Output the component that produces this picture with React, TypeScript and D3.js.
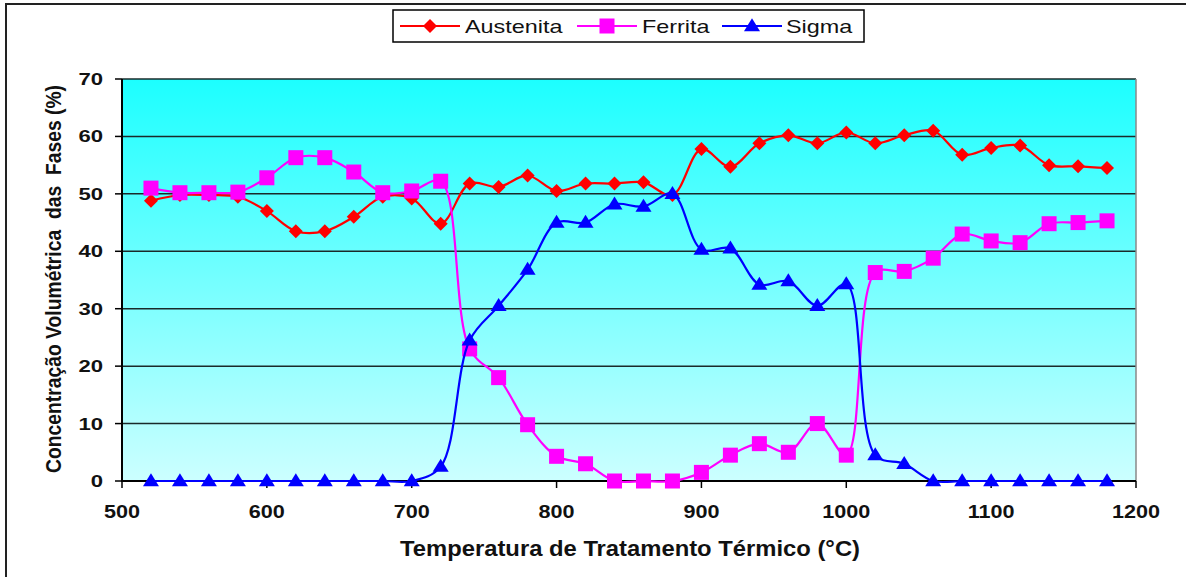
import React from "react";
import * as d3 from "d3";

const temps = [520,540,560,580,600,620,640,660,680,700,720,740,760,780,800,820,840,860,880,900,920,940,960,980,1000,1020,1040,1060,1080,1100,1120,1140,1160,1180];
const austenita = [48.8,49.8,49.8,49.5,47,43.5,43.5,46,49.5,49.2,44.8,51.8,51.2,53.2,50.5,51.8,51.8,52,49.8,57.8,54.7,58.8,60.2,58.8,60.7,58.8,60.2,61,56.8,58,58.4,55,54.8,54.5];
const ferrita = [51,50.2,50.2,50.3,52.8,56.3,56.3,53.8,50.2,50.5,52.2,23,18,9.8,4.3,3,0,0,0,1.5,4.5,6.5,5,10,4.5,36.3,36.5,38.8,43,41.8,41.5,44.8,45,45.3];
const sigma = [0,0,0,0,0,0,0,0,0,0,2.5,24.5,30.5,36.8,45,45,48.2,47.8,50,40.3,40.5,34.2,34.8,30.5,34.3,4.5,3,0,0,0,0,0,0,0];
const xTicks = [500,600,700,800,900,1000,1100,1200];
const yTicks = [0,10,20,30,40,50,60,70];
const seriesNames = ["Austenita", "Ferrita", "Sigma"];
const xTitle = "Temperatura de Tratamento Térmico (°C)";
const yTitle = "Concentração Volumétrica  das  Fases (%)";

const x = d3.scaleLinear().domain([500, 1200]).range([122, 1136]);
const y = d3.scaleLinear().domain([0, 70]).range([481, 79]);

const series = [
  { name: seriesNames[0], values: austenita, color: "#FF0000", marker: "diamond" },
  { name: seriesNames[1], values: ferrita, color: "#FF00FF", marker: "square" },
  { name: seriesNames[2], values: sigma, color: "#0000FF", marker: "triangle" },
];

function Marker({ type, cx, cy, color }: { type: string; cx: number; cy: number; color: string }) {
  if (type === "diamond") {
    const r = 7;
    return <path d={`M${cx},${cy - r}L${cx + r},${cy}L${cx},${cy + r}L${cx - r},${cy}Z`} fill={color} />;
  }
  if (type === "square") {
    const s = 15;
    return <rect x={cx - s / 2} y={cy - s / 2} width={s} height={s} fill={color} />;
  }
  const h = 13, w = 16;
  return <path d={`M${cx},${cy - h * 0.6}L${cx + w / 2},${cy + h * 0.4}L${cx - w / 2},${cy + h * 0.4}Z`} fill={color} />;
}

function SText({ x, y, anchor, size, sx, weight, children }: any) {
  return (
    <g transform={`translate(${x},${y}) scale(${sx},1)`}>
      <text x={0} y={0} textAnchor={anchor} fontSize={size} fontWeight={weight} fill="#111" style={{ whiteSpace: "pre" }}>{children}</text>
    </g>
  );
}

export default function App() {
  const line = d3.line<number>()
    .x((_, i) => x(temps[i]))
    .y((d) => y(d))
    .curve(d3.curveCatmullRom.alpha(0.5));
  const font = "'Liberation Sans', Arial, sans-serif";
  const legendLineX = [400, 577, 722];
  const legendTextX = [465, 642, 786];
  return (
    <svg width={1186} height={577} style={{ position: "absolute", left: 0, top: 0 }} fontFamily={font}>
      <defs>
        <linearGradient id="bg" x1="0" y1="0" x2="0" y2="1">
          <stop offset="0" stopColor="#1CFFFF" />
          <stop offset="1" stopColor="#CCFFFF" />
        </linearGradient>
      </defs>
      <rect x={0} y={0} width={1186} height={577} fill="#fff" />
      <line x1={5} y1={4} x2={1186} y2={4} stroke="#222" strokeWidth={2} />
      <line x1={6} y1={4} x2={6} y2={577} stroke="#222" strokeWidth={2} />
      <rect x={x(500)} y={y(70)} width={x(1200) - x(500)} height={y(0) - y(70)} fill="url(#bg)" />
      {yTicks.map((t) => (
        <g key={t}>
          <line x1={x(500)} x2={x(1200)} y1={y(t)} y2={y(t)} stroke="#1a2a2a" strokeWidth={1.5} />
          <line x1={x(500) - 7} x2={x(500)} y1={y(t)} y2={y(t)} stroke="#000" strokeWidth={1.5} />
          <SText x={103} y={y(t) + 6} anchor="end" size={17} sx={1.3} weight="bold">{t}</SText>
        </g>
      ))}
      <line x1={x(1200)} x2={x(1200)} y1={y(70)} y2={y(0)} stroke="#888" strokeWidth={1.5} />
      <line x1={x(500)} x2={x(500)} y1={y(70)} y2={y(0) + 1} stroke="#000" strokeWidth={2} />
      <line x1={x(500)} x2={x(1200)} y1={y(0)} y2={y(0)} stroke="#000" strokeWidth={2} />
      {xTicks.map((t) => (
        <g key={t}>
          <line x1={x(t)} x2={x(t)} y1={y(0)} y2={y(0) + 7} stroke="#000" strokeWidth={1.5} />
          <SText x={x(t)} y={518} anchor="middle" size={18} sx={1.2} weight="bold">{t}</SText>
        </g>
      ))}
      {series.map((s) => (
        <g key={s.name}>
          <path d={line(s.values) || ""} fill="none" stroke={s.color} strokeWidth={2.2} />
          {s.values.map((v, i) => (
            <Marker key={i} type={s.marker} cx={x(temps[i])} cy={y(v)} color={s.color} />
          ))}
        </g>
      ))}
      <text x={400} y={556} fontSize={22} fontWeight="bold" fill="#111" textLength={460} lengthAdjust="spacingAndGlyphs">{xTitle}</text>
      <g transform={`translate(61,279) scale(1.15,1) rotate(-90)`}>
        <text x={0} y={0} textAnchor="middle" fontSize={19} fontWeight="bold" fill="#111" style={{ whiteSpace: "pre" }} textLength={388} lengthAdjust="spacingAndGlyphs">{yTitle}</text>
      </g>
      <rect x={393} y={10} width={471} height={32} fill="#fff" stroke="#000" strokeWidth={1.5} />
      {series.map((s, i) => {
        const lx = legendLineX[i];
        return (
          <g key={s.name}>
            <line x1={lx} x2={lx + 60} y1={26} y2={26} stroke={s.color} strokeWidth={2} />
            <Marker type={s.marker} cx={lx + 30} cy={26} color={s.color} />
            <SText x={legendTextX[i]} y={33} anchor="start" size={18} sx={1.3} weight="normal">{s.name}</SText>
          </g>
        );
      })}
    </svg>
  );
}
